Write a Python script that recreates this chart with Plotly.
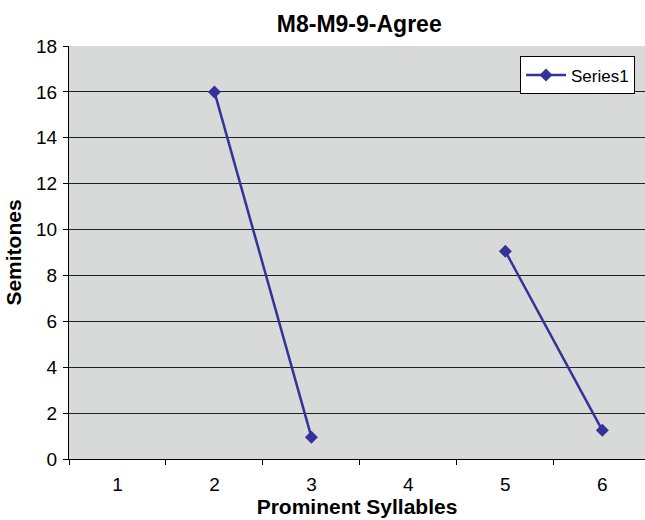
import plotly.graph_objects as go

categories = [1, 2, 3, 4, 5, 6]
values = [None, 16, 0.95, None, 9.05, 1.25]
series_name = "Series1"
y_ticks = [0, 2, 4, 6, 8, 10, 12, 14, 16, 18]

fig = go.Figure()
fig.add_trace(go.Scatter(
    x=categories, y=values, name=series_name, mode="lines+markers",
    connectgaps=False,
    line=dict(color="#333399", width=2.5),
    marker=dict(symbol="diamond", size=10, color="#333399"),
    showlegend=True,
))

font = "Liberation Sans, Arial, Helvetica, sans-serif"
fig.update_layout(
    width=645, height=520,
    margin=dict(l=69, r=0, t=46, b=61),
    paper_bgcolor="white", plot_bgcolor="#d8d9d9",
    font=dict(family=font, color="black", size=19),
    title=dict(text="<b>M8-M9-9-Agree</b>", x=0.557, xanchor="center", y=0.953, yanchor="middle",
               font=dict(size=23, family=font)),
    legend=dict(x=0.783, y=0.975, xanchor="left", yanchor="top",
                bgcolor="white", bordercolor="black", borderwidth=1,
                font=dict(size=17, family=font), itemwidth=40,
                tracegroupgap=0),
)
fig.update_xaxes(
    range=[0.5, 6.44], tickvals=categories, ticktext=[str(c) for c in categories],
    ticks="", showgrid=False, zeroline=False,
    showline=True, linecolor="black", linewidth=1,
    minor=dict(tickvals=[0.5, 1.5, 2.5, 3.5, 4.5, 5.5, 6.5], ticks="outside", ticklen=5,
               tickcolor="black", showgrid=False),
    tickfont=dict(size=19), ticklabelstandoff=8,
    title=dict(text="<b>Prominent Syllables</b>", font=dict(size=21), standoff=4),
)
fig.update_yaxes(
    range=[0, 18], tickvals=y_ticks, ticks="outside", ticklen=5, tickcolor="black",
    showgrid=True, gridcolor="#222222", gridwidth=1, zeroline=False,
    showline=True, linecolor="black", linewidth=1,
    tickfont=dict(size=19), ticklabelstandoff=2,
    title=dict(text="<b>Semitones</b>", font=dict(size=21), standoff=8),
)

fig.write_html("out.html")
